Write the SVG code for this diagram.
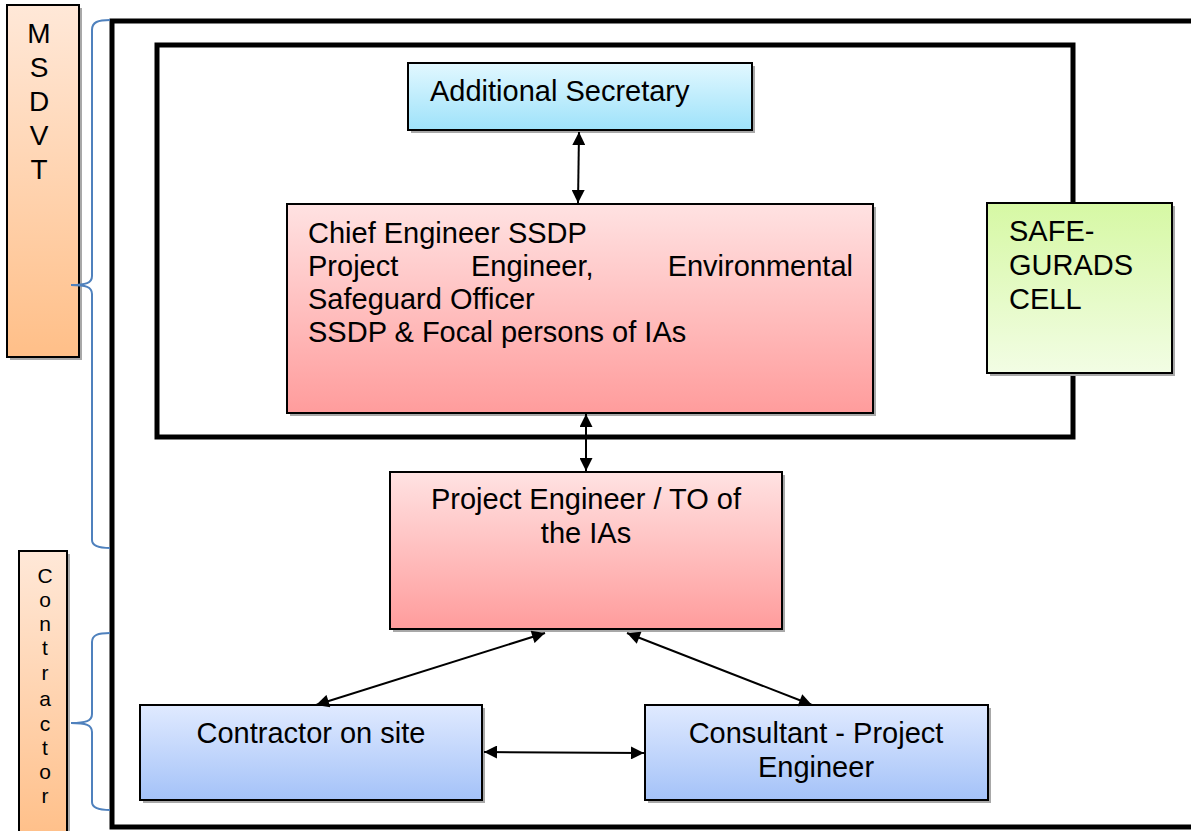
<svg xmlns="http://www.w3.org/2000/svg" width="1191" height="831" viewBox="0 0 1191 831">
<defs>
<linearGradient id="gOrange" x1="0" y1="0" x2="0" y2="1"><stop offset="0" stop-color="#ffe8d8"/><stop offset="1" stop-color="#ffbf88"/></linearGradient>
<linearGradient id="gCyan" x1="0" y1="0" x2="0" y2="1"><stop offset="0" stop-color="#e2f8ff"/><stop offset="1" stop-color="#9ee2fa"/></linearGradient>
<linearGradient id="gPink" x1="0" y1="0" x2="0" y2="1"><stop offset="0" stop-color="#ffe2e2"/><stop offset="1" stop-color="#ff9c9c"/></linearGradient>
<linearGradient id="gGreen" x1="0" y1="0" x2="0" y2="1"><stop offset="0" stop-color="#d6f8a4"/><stop offset="1" stop-color="#f2fde4"/></linearGradient>
<linearGradient id="gBlue" x1="0" y1="0" x2="0" y2="1"><stop offset="0" stop-color="#e0eaff"/><stop offset="1" stop-color="#a4c2f8"/></linearGradient>
<marker id="ah" viewBox="0 0 10 10" refX="10" refY="5" markerWidth="7" markerHeight="6.5" orient="auto-start-reverse" markerUnits="strokeWidth"><path d="M0,0 L10,5 L0,10 z" fill="#000"/></marker>
</defs>
<style>
.box{stroke:#000;stroke-width:2}
.sh{fill:#a8a8a8}
.t{font-family:"Liberation Sans",Arial,sans-serif;font-size:29px;fill:#000}
.v{font-family:"Liberation Sans",Arial,sans-serif;fill:#000;text-anchor:middle}
.frame{fill:none;stroke:#000;stroke-width:5}
.brace{fill:none;stroke:#4f81bd;stroke-width:2}
.con{fill:none;stroke:#000;stroke-width:2;marker-start:url(#ah);marker-end:url(#ah)}
</style>
<rect width="1191" height="831" fill="#fff"/>

<g id="frames">
<path class="frame" d="M1195,21 L112,21 L112,827 L1195,827"/>
<rect class="frame" x="157" y="45" width="916" height="392"/>
</g>

<g id="msdvt">
<rect class="sh" x="10" y="8" width="72" height="352"/>
<rect class="box" x="7" y="5" width="72" height="352" fill="url(#gOrange)"/>
<text class="v" font-size="28" x="39" y="43">M</text>
<text class="v" font-size="28" x="39" y="77">S</text>
<text class="v" font-size="28" x="39" y="111">D</text>
<text class="v" font-size="28" x="39" y="145">V</text>
<text class="v" font-size="28" x="39" y="179">T</text>
</g>

<g id="contractor-label">
<rect class="sh" x="22" y="554" width="48" height="290"/>
<rect class="box" x="19" y="551" width="48" height="290" fill="url(#gOrange)"/>
<text class="v" font-size="21" x="45" y="583">C</text>
<text class="v" font-size="21" x="45" y="607">o</text>
<text class="v" font-size="21" x="45" y="631">n</text>
<text class="v" font-size="21" x="45" y="655">t</text>
<text class="v" font-size="21" x="45" y="680">r</text>
<text class="v" font-size="21" x="45" y="706">a</text>
<text class="v" font-size="21" x="45" y="731">c</text>
<text class="v" font-size="21" x="45" y="755">t</text>
<text class="v" font-size="21" x="45" y="779">o</text>
<text class="v" font-size="21" x="45" y="803">r</text>
</g>

<g id="braces">
<path class="brace" d="M110,20 C98,20 92,22 92,30 L92,276 C92,283 86,285 71,285 C86,285 92,287 92,294 L92,540 C92,546 98,548 110,548"/>
<path class="brace" d="M110,633 C98,633 92,635 92,642 L92,714 C92,721 86,723 71,723 C86,723 92,725 92,732 L92,802 C92,808 98,810 110,810"/>
</g>

<g id="additional-secretary">
<rect class="sh" x="411" y="66" width="344" height="67"/>
<rect class="box" x="408" y="63" width="344" height="67" fill="url(#gCyan)"/>
<text class="t" x="430" y="101">Additional Secretary</text>
</g>

<g id="chief-engineer">
<rect class="sh" x="290" y="207" width="586" height="209"/>
<rect class="box" x="287" y="204" width="586" height="209" fill="url(#gPink)"/>
<text class="t" x="308" y="243">Chief Engineer SSDP</text>
<text class="t" x="308" y="276">Project</text>
<text class="t" x="471" y="276">Engineer,</text>
<text class="t" x="853" y="276" text-anchor="end">Environmental</text>
<text class="t" x="308" y="309">Safeguard Officer</text>
<text class="t" x="308" y="342">SSDP &amp; Focal persons of IAs</text>
</g>

<g id="safeguards-cell">
<rect class="sh" x="990" y="206" width="185" height="170"/>
<rect class="box" x="987" y="203" width="185" height="170" fill="url(#gGreen)"/>
<text class="t" x="1009" y="241">SAFE-</text>
<text class="t" x="1009" y="275">GURADS</text>
<text class="t" x="1009" y="309">CELL</text>
</g>

<g id="project-engineer-to">
<rect class="sh" x="393" y="475" width="392" height="157"/>
<rect class="box" x="390" y="472" width="392" height="157" fill="url(#gPink)"/>
<text class="t" x="586" y="509" text-anchor="middle">Project Engineer / TO of</text>
<text class="t" x="586" y="543" text-anchor="middle">the IAs</text>
</g>

<g id="contractor-on-site">
<rect class="sh" x="143" y="708" width="342" height="95"/>
<rect class="box" x="140" y="705" width="342" height="95" fill="url(#gBlue)"/>
<text class="t" x="311" y="743" text-anchor="middle">Contractor on site</text>
</g>

<g id="consultant">
<rect class="sh" x="648" y="708" width="343" height="95"/>
<rect class="box" x="645" y="705" width="343" height="95" fill="url(#gBlue)"/>
<text class="t" x="816" y="743" text-anchor="middle">Consultant - Project</text>
<text class="t" x="816" y="777" text-anchor="middle">Engineer</text>
</g>

<g id="connectors">
<line class="con" x1="579" y1="132" x2="578" y2="203"/>
<line class="con" x1="586" y1="414" x2="586" y2="471"/>
<line class="con" x1="545" y1="633" x2="316" y2="705"/>
<line class="con" x1="627" y1="633" x2="812" y2="705"/>
<line class="con" x1="484" y1="752" x2="644" y2="753"/>
</g>
</svg>
